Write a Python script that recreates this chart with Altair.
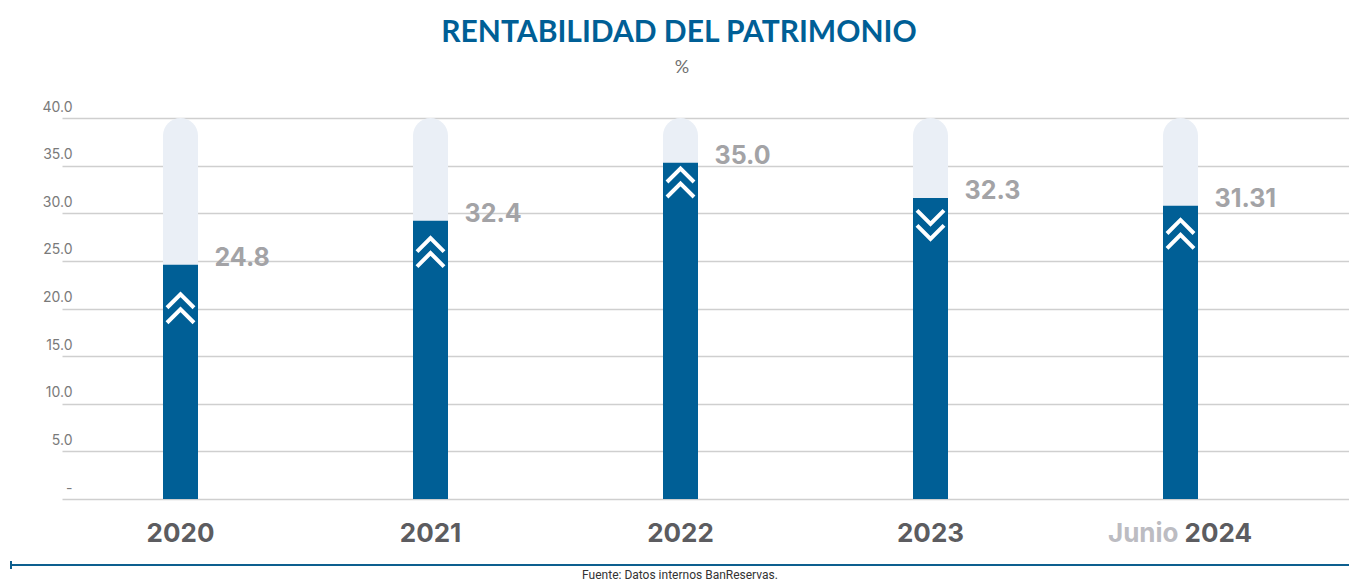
import altair as alt
import pandas as pd

# ---- data ----
years = ["2020", "2021", "2022", "2023", "2024"]
prefixes = ["", "", "", "", "Junio "]
bar_values = [24.6, 29.2, 35.3, 31.6, 30.8]          # drawn bar heights
label_texts = ["24.8", "32.4", "35.0", "32.3", "31.31"]  # printed labels
arrow_dirs = ["up", "up", "up", "down", "up"]
arrow_pos = [20.0, 25.9, 33.2, 28.8, 27.8]
max_value = [40, 40, 40, 40, 40]
y_ticks = [0, 5, 10, 15, 20, 25, 30, 35, 40]

df = pd.DataFrame({
    "idx": list(range(len(years))),
    "year": years,
    "prefix": prefixes,
    "value": bar_values,
    "label": label_texts,
    "dir": arrow_dirs,
    "apos": arrow_pos,
    "maxv": max_value,
})

BLUE = "#005f96"
W, H = 1287, 381

xs = alt.Scale(domain=[-0.454, 4.654], nice=False, zero=False)
ys = alt.Scale(domain=[0, 40], nice=False)

X = alt.X("idx:Q", scale=xs, axis=None)

base = alt.Chart(df)

bg = base.mark_bar(size=35, color="#eaeff6", cornerRadiusTopLeft=17.5,
                   cornerRadiusTopRight=17.5).encode(
    x=X,
    y=alt.Y("maxv:Q", scale=ys, axis=alt.Axis(
        values=y_ticks, title=None, domain=False, ticks=False,
        grid=True, gridColor="#cfcfcf", gridWidth=1.5,
        labelExpr="datum.value == 0 ? '-' : format(datum.value, '.1f')",
        labelFont="Inter", labelFontSize=14, labelColor="#7a7a7a",
        labelPadding=-10, labelOffset=-11, labelBaseline="middle",
    )),
)

bars = base.mark_bar(size=35, color=BLUE).encode(x=X, y=alt.Y("value:Q", scale=ys))

up_path = "M-0.73,-0.04L0,-0.77L0.73,-0.04M-0.73,0.77L0,0.04L0.73,0.77"
down_path = "M-0.73,0.04L0,0.77L0.73,0.04M-0.73,-0.77L0,-0.04L0.73,-0.77"

arrows = base.mark_point(filled=False, stroke="white", strokeWidth=4,
                         size=1369, opacity=1, strokeCap="butt").encode(
    x=X,
    y=alt.Y("apos:Q", scale=ys),
    shape=alt.Shape("dir:N", scale=alt.Scale(domain=["up", "down"],
                                             range=[up_path, down_path]),
                    legend=None),
)

vlabels = base.mark_text(align="left", baseline="middle", dx=34, dy=-7,
                         font="Inter", fontWeight="bold", fontSize=25,
                         color="#a3a3a6").encode(
    x=X, y=alt.Y("value:Q", scale=ys), text="label:N")

ylab_y = 416
year_lbl = base.transform_filter("datum.prefix == ''").mark_text(
    align="center", baseline="middle", font="Inter", fontWeight="bold",
    fontSize=26, color="#5c5c60").encode(
    x=X, y=alt.value(ylab_y), text="year:N")

pre_lbl = base.transform_filter("datum.prefix != ''").mark_text(
    align="right", baseline="middle", dx=-2, font="Inter", fontWeight="bold",
    fontSize=26, color="#bcbcc2").encode(
    x=X, y=alt.value(ylab_y), text="prefix:N")

yr2_lbl = base.transform_filter("datum.prefix != ''").mark_text(
    align="left", baseline="middle", dx=4, font="Inter", fontWeight="bold",
    fontSize=26, color="#5c5c60").encode(
    x=X, y=alt.value(ylab_y), text="year:N")

title = alt.Chart(pd.DataFrame({"t": ["RENTABILIDAD DEL PATRIMONIO"]})).mark_text(
    align="center", baseline="middle", font="Lato", fontWeight="bold",
    fontSize=30, color=BLUE).encode(x=alt.value(617), y=alt.value(-85), text="t:N")

subtitle = alt.Chart(pd.DataFrame({"t": ["%"]})).mark_text(
    align="center", baseline="middle", font="Lato", fontSize=18,
    color="#707070").encode(x=alt.value(620), y=alt.value(-50), text="t:N")

line = alt.Chart(pd.DataFrame({"a": [0]})).mark_rule(
    color="#0d5f8f", strokeWidth=2).encode(
    x=alt.value(-51), x2=alt.value(W + 20), y=alt.value(447))

tick = alt.Chart(pd.DataFrame({"a": [0]})).mark_rule(
    color="#0d5f8f", strokeWidth=2).encode(
    x=alt.value(-51), y=alt.value(443), y2=alt.value(451))

source = alt.Chart(pd.DataFrame({"t": ["Fuente: Datos internos BanReservas."]})).mark_text(
    align="center", baseline="middle", font="Roboto",
    fontSize=12, color="#333333").encode(
    x=alt.value(618), y=alt.value(457), text="t:N")

chart = alt.layer(
    bg, bars, arrows, vlabels, year_lbl, pre_lbl, yr2_lbl,
    title, subtitle, line, tick, source,
).properties(
    width=W, height=H,
    autosize=alt.AutoSizeParams(type="none"),
    padding={"left": 54, "top": 110, "right": 0, "bottom": 83},
).configure_view(strokeWidth=0)

chart.save("out.html", embed_options={"renderer": "svg", "actions": False})
